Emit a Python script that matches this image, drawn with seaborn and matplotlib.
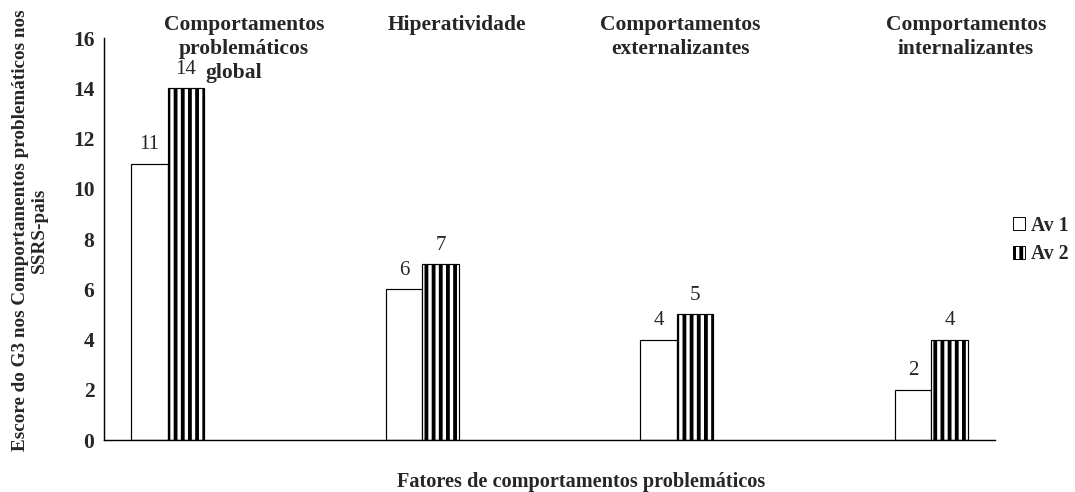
import pandas as pd
import matplotlib.pyplot as plt
import seaborn as sns
from matplotlib.patches import Patch

# Data
categories = [
    "Comportamentos\nproblemáticos\nglobal",
    "Hiperatividade",
    "Comportamentos\nexternalizantes",
    "Comportamentos\ninternalizantes",
]
series = ["Av 1", "Av 2"]
av1 = [11, 6, 4, 2]
av2 = [14, 7, 5, 4]
yticks = [0, 2, 4, 6, 8, 10, 12, 14, 16]

# Style
sns.set_style("white")
plt.rcParams["font.family"] = ["Liberation Serif", "DejaVu Serif"]
plt.rcParams["hatch.linewidth"] = 3.2
plt.rcParams["axes.edgecolor"] = "black"

df = pd.DataFrame({
    "fator": categories * 2,
    "avaliacao": [series[0]] * len(av1) + [series[1]] * len(av2),
    "escore": av1 + av2,
})

# empty slots between the groups, like the original spreadsheet chart
order = [categories[0], "gap1", categories[1], "gap2", categories[2], "gap3", categories[3]]

fig = plt.figure(figsize=(1075 / 86, 492 / 86), dpi=86)
ax = fig.add_axes([104 / 1075, 52 / 492, 891 / 1075, 402 / 492])

sns.barplot(data=df, x="fator", y="escore", hue="avaliacao", order=order,
            hue_order=series, palette={series[0]: "white", series[1]: "white"},
            edgecolor="black", linewidth=1, width=0.575, errorbar=None,
            legend=False, ax=ax)

for bar in ax.containers[1]:
    bar.set_hatch("||")
    bar.set_hatch_linewidth(3.2)

# value labels
for cont, vals in zip(ax.containers, [av1, av2]):
    for bar, v in zip(cont, vals):
        ax.text(bar.get_x() + bar.get_width() / 2, v + 0.75, str(v),
                ha="center", va="center", fontsize=17.5)

# category titles above the groups, line by line (last line of the first
# title sits a bit to the left, as in the original)
title_shift = [0.6, 0.27, 0.03, 0.27]
for name, dx in zip(categories, title_shift):
    for j, line in enumerate(name.split("\n")):
        nudge = -0.08 if j == 2 else 0
        ax.text(order.index(name) + dx + nudge, 16.9 - j * 0.94, line,
                ha="center", va="top", fontsize=18, fontweight="bold",
                clip_on=False)

ax.set_xlim(-0.5, len(order) - 0.5)
ax.set_ylim(0, 16)
ax.set_xticks([i - 0.5 for i in range(len(order) + 1)])
ax.set_xticklabels([])
ax.set_yticks(yticks)
ax.set_yticklabels([str(t) for t in yticks], fontsize=18, fontweight="bold")
ax.tick_params(axis="x", length=6, width=1, direction="out", color="black")
ax.tick_params(axis="y", length=5, width=1, direction="out", color="black", pad=3)
ax.set_xlabel("")
ax.set_ylabel("")
sns.despine(ax=ax)
for s in ["left", "bottom"]:
    ax.spines[s].set_linewidth(1.2)

fig.text(30 / 1075, 1 - 230 / 492,
         "Escore do G3 nos Comportamentos problemáticos nos\nSSRS-pais",
         rotation=90, ha="center", va="center", fontsize=16, fontweight="bold",
         linespacing=1.1)
fig.text(581 / 1075, 1 - 482 / 492, "Fatores de comportamentos problemáticos",
         ha="center", va="center", fontsize=17, fontweight="bold")

handles = [Patch(facecolor="white", edgecolor="black", linewidth=0.8),
           Patch(facecolor="white", edgecolor="black", linewidth=0.8, hatch="||")]
fig.legend(handles, series, loc="center left",
           bbox_to_anchor=(1013 / 1075, 1 - 240 / 492), frameon=False,
           borderpad=0, borderaxespad=0,
           handlelength=0.6, handleheight=0.6, handletextpad=0.3,
           labelspacing=0.45, prop={"size": 16.5, "weight": "bold"})

plt.savefig("out.png", dpi=86)
